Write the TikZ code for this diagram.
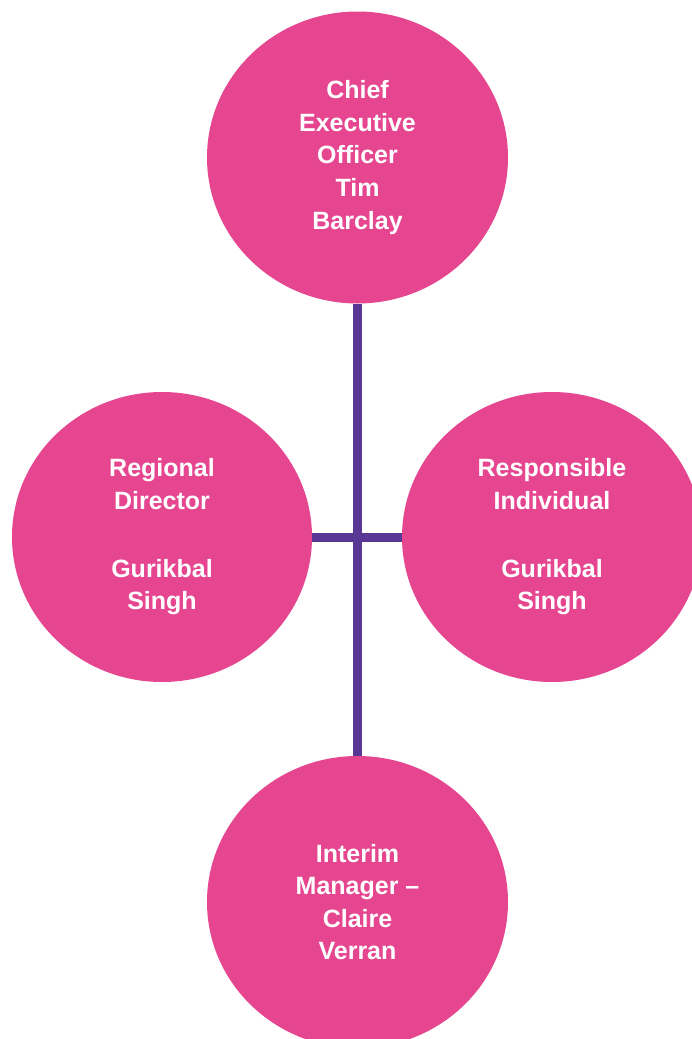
\documentclass[tikz,border=0pt]{standalone}
\usepackage{fontspec}
\setmainfont{Liberation Sans}
\usetikzlibrary{shapes.geometric}
\definecolor{pinkfill}{RGB}{229,70,143}
\definecolor{linkpurple}{RGB}{88,56,148}
\begin{document}
\begin{tikzpicture}[x=1pt,y=-1pt,
  person/.style={ellipse, fill=pinkfill, draw=none, minimum width=301pt, minimum height=292pt, inner sep=0pt,
    text=white, align=center, font=\fontsize{25pt}{32.75pt}\selectfont\bfseries},
  link/.style={draw=linkpurple, line width=9pt}]
\clip (0,0) rectangle (692,1039);
\useasboundingbox (0,0) rectangle (692,1039);
\fill[white] (0,0) rectangle (692,1039);
\node[person] (ceo) at (357.5,157.5) {Chief\\Executive\\Officer\\Tim\\Barclay};
\node[person, minimum width=300pt, minimum height=290pt] (rd) at (162,537) {Regional\\Director\\[2pt]\mbox{}\\Gurikbal\\Singh};
\node[person, minimum width=300pt, minimum height=290pt] (ri) at (552,537) {Responsible\\Individual\\[2pt]\mbox{}\\Gurikbal\\Singh};
\node[person, font=\fontsize{25pt}{32.4pt}\selectfont\bfseries] (im) at (357.5,902) {Interim\\Manager --\\Claire\\Verran};
\draw[link] (ceo.south) -- (im.north);
\draw[link] (rd.east) -- (ri.west);
\end{tikzpicture}
\end{document}
